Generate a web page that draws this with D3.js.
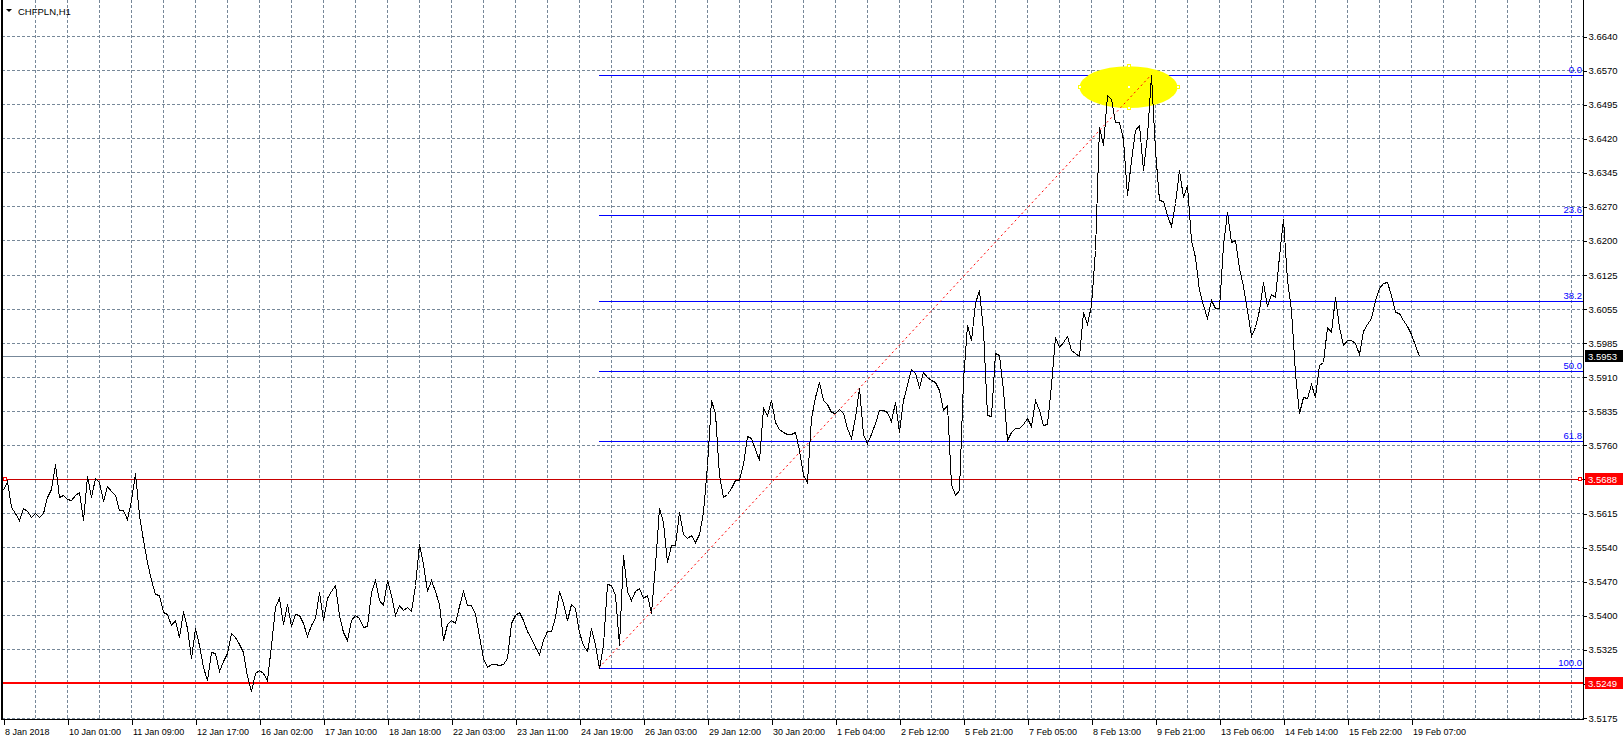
<!DOCTYPE html>
<html><head><meta charset="utf-8">
<script src="https://cdn.jsdelivr.net/npm/d3@7"></script>
<style>
html,body{margin:0;padding:0;background:#fff;}
svg{display:block;}
text{font-family:"Liberation Sans",Arial,sans-serif;}
</style></head><body>
<svg id="chart" width="1623" height="741"></svg>
<script>
// ---------------- data ----------------
const symbolTitle = "CHFPLN,H1";
// close price sampled every 2nd H1 bar, starting 8 Jan 2018
const closes = [
3.5663,3.5683,3.5627,3.5614,3.5599,3.5625,3.5618,3.5607,3.5614,3.5607,
3.5614,3.5648,3.5666,3.5721,3.5648,3.5653,3.5644,3.5642,3.5653,3.5659,
3.5599,3.5694,3.5648,3.5689,3.5681,3.5640,3.5672,3.5661,3.5653,3.5622,
3.5620,3.5601,3.5642,3.5700,3.5610,3.5556,3.5509,3.5470,3.5440,3.5438,
3.5401,3.5397,3.5373,3.5384,3.5349,3.5405,3.5367,3.5302,3.5367,3.5330,
3.5283,3.5255,3.5315,3.5313,3.5276,3.5296,3.5313,3.5356,3.5347,3.5334,
3.5315,3.5265,3.5233,3.5270,3.5278,3.5270,3.5255,3.5330,3.5412,3.5431,
3.5377,3.5418,3.5371,3.5397,3.5395,3.5379,3.5351,3.5373,3.5388,3.5444,
3.5384,3.5431,3.5448,3.5459,3.5395,3.5358,3.5341,3.5384,3.5395,3.5388,
3.5369,3.5371,3.5444,3.5470,3.5427,3.5416,3.5470,3.5438,3.5395,3.5416,
3.5407,3.5412,3.5403,3.5459,3.5549,3.5506,3.5448,3.5470,3.5448,3.5420,
3.5341,3.5377,3.5384,3.5379,3.5414,3.5448,3.5416,3.5416,3.5397,3.5351,
3.5302,3.5283,3.5291,3.5291,3.5287,3.5291,3.5302,3.5379,3.5395,3.5401,
3.5384,3.5362,3.5345,3.5326,3.5311,3.5341,3.5360,3.5362,3.5390,3.5448,
3.5422,3.5384,3.5418,3.5410,3.5358,3.5330,3.5319,3.5367,3.5334,3.5282,
3.5330,3.5463,3.5459,3.5438,3.5330,3.5524,3.5448,3.5427,3.5448,3.5453,
3.5431,3.5438,3.5399,3.5502,3.5625,3.5595,3.5509,3.5545,3.5545,3.5616,
3.5569,3.5560,3.5567,3.5552,3.5569,3.5616,3.5717,3.5857,3.5829,3.5696,
3.5650,3.5655,3.5668,3.5685,3.5685,3.5719,3.5780,3.5775,3.5752,3.5728,
3.5840,3.5825,3.5857,3.5810,3.5795,3.5788,3.5784,3.5784,3.5788,3.5749,
3.5696,3.5681,3.5818,3.5863,3.5896,3.5857,3.5848,3.5831,3.5829,3.5838,
3.5829,3.5797,3.5775,3.5820,3.5883,3.5784,3.5765,3.5784,3.5808,3.5836,
3.5836,3.5831,3.5812,3.5853,3.5788,3.5857,3.5889,3.5924,3.5915,3.5885,
3.5917,3.5906,3.5900,3.5896,3.5879,3.5836,3.5846,3.5678,3.5653,3.5663,
3.5900,3.6018,3.5986,3.6066,3.6094,3.6008,3.5825,3.5823,3.5958,3.5954,
3.5879,3.5771,3.5788,3.5797,3.5797,3.5805,3.5818,3.5801,3.5857,3.5836,
3.5803,3.5805,3.5889,3.5993,3.5971,3.5982,3.5995,3.5965,3.5958,3.5952,
3.6046,3.6021,3.6061,3.6180,3.6444,3.6406,3.6513,3.6505,3.6455,3.6455,
3.6418,3.6298,3.6373,3.6438,3.6449,3.6352,3.6427,3.6556,3.6395,3.6287,
3.6285,3.6255,3.6231,3.6281,3.6352,3.6294,3.6320,3.6201,3.6165,3.6094,
3.6061,3.6033,3.6072,3.6055,3.6055,3.6190,3.6261,3.6197,3.6201,3.6141,
3.6102,3.6051,3.5995,3.6014,3.6051,3.6111,3.6059,3.6085,3.6079,3.6167,
3.6246,3.6115,3.6051,3.5915,3.5829,3.5863,3.5861,3.5891,3.5863,3.5932,
3.5939,3.6014,3.6003,3.6079,3.6014,3.5975,3.5986,3.5986,3.5980,3.5956,
3.6005,3.6021,3.6033,3.6072,3.6098,3.6109,3.6111,3.6083,3.6046,3.6044,
3.6029,3.6016,3.5999,3.5975,3.5953
];
const barsPerSample = 2;
const totalBars = 790;             // bars spanning the visible window incl. right shift

const xLabels = ["8 Jan 2018","10 Jan 01:00","11 Jan 09:00","12 Jan 17:00","16 Jan 02:00",
  "17 Jan 10:00","18 Jan 18:00","22 Jan 03:00","23 Jan 11:00","24 Jan 19:00","26 Jan 03:00",
  "29 Jan 12:00","30 Jan 20:00","1 Feb 04:00","2 Feb 12:00","5 Feb 21:00","7 Feb 05:00",
  "8 Feb 13:00","9 Feb 21:00","13 Feb 06:00","14 Feb 14:00","15 Feb 22:00","19 Feb 07:00"];
const xLabelBars = [0,32,64,96,128,160,192,224,256,288,320,352,384,416,448,480,512,544,576,608,640,672,704];
const xGridBars = [16,32,48,64,80,96,112,128,144,160,176,192,208,224,240,256,272,288,304,320,336,352,368,384,
  400,416,432,448,464,480,496,512,528,544,560,576,592,608,624,640,656,672,688,704,720,736,752,768,784];

const yTickLabels = ["3.6640","3.6570","3.6495","3.6420","3.6345","3.6270","3.6200","3.6125","3.6055",
  "3.5985","3.5910","3.5835","3.5760","3.5688","3.5615","3.5540","3.5470","3.5400","3.5325","3.5249","3.5175"];
const yTop = 3.6640, yBottom = 3.5175;

const currentPrice = 3.5953;
const hLinePrices = [3.5688, 3.5249];
const hLineWidths = [1, 2];
const hLineColors = ["#c80000", "#ff0000"];

const fibLevels = [0, 23.6, 38.2, 50, 61.8, 100];
const fibLabels = ["0.0","23.6","38.2","50.0","61.8","100.0"];
const fibHigh = 3.6556, fibLow = 3.5282;
const fibLowBar = 298, fibHighBar = 574;

const ellipseCenterBar = 562.75, ellipseCenterPrice = 3.6530;
const ellipseHalfBars = 24.5, ellipseHalfPrice = 0.0045;

// ---------------- drawing ----------------
const svg = d3.select("#chart");
const frameL = 2, frameR = 1583, frameT = 0, frameB = 719;
const x = d3.scaleLinear().domain([0, totalBars]).range([3, 1583]);
const y = d3.scaleLinear().domain([yBottom, yTop]).range([717.5, 36]);
const gridValues = yTickLabels.map((_, k) => yTop - k * (yTop - yBottom) / (yTickLabels.length - 1));
const px = v => Math.round(v) + 0.5;

svg.append("rect").attr("width",1623).attr("height",741).attr("fill","#fff");

const gridColor = "#778899";
const g = svg.append("g").attr("shape-rendering","crispEdges");
g.selectAll(".vg").data(xGridBars).join("line")
  .attr("x1", d => px(x(d))).attr("x2", d => px(x(d)))
  .attr("y1", frameT).attr("y2", frameB)
  .attr("stroke", gridColor).attr("stroke-dasharray","3,2");
g.selectAll(".hg").data(gridValues).join("line")
  .attr("x1", frameL).attr("x2", frameR)
  .attr("y1", d => px(y(d))).attr("y2", d => px(y(d)))
  .attr("stroke", gridColor).attr("stroke-dasharray","3,2");

// current price line
g.append("line").attr("x1",frameL).attr("x2",frameR)
  .attr("y1",px(y(currentPrice))).attr("y2",px(y(currentPrice)))
  .attr("stroke","#778899");

// yellow ellipse
svg.append("ellipse")
  .attr("cx", x(ellipseCenterBar)).attr("cy", y(ellipseCenterPrice))
  .attr("rx", x(ellipseCenterBar + ellipseHalfBars) - x(ellipseCenterBar))
  .attr("ry", y(ellipseCenterPrice - ellipseHalfPrice) - y(ellipseCenterPrice))
  .attr("fill","#ffff00");

// horizontal red lines
hLinePrices.forEach((p, i) => {
  const w = hLineWidths[i];
  const yy = w === 1 ? px(y(p)) : Math.round(y(p));
  g.append("line").attr("x1",frameL).attr("x2",frameR).attr("y1",yy).attr("y2",yy)
    .attr("stroke", hLineColors[i]).attr("stroke-width", w);
});

// fibonacci levels
const fibX1 = x(fibLowBar);
fibLevels.forEach((lv, i) => {
  const price = fibHigh - (fibHigh - fibLow) * lv / 100;
  const yy = px(y(price));
  g.append("line").attr("x1",Math.round(fibX1)).attr("x2",frameR).attr("y1",yy).attr("y2",yy)
    .attr("stroke","#0000ff");
  svg.append("text").attr("x", frameR - 1).attr("y", yy - 2.5)
    .attr("text-anchor","end").attr("font-size","9.5px").attr("fill","#0000ff")
    .text(fibLabels[i]);
});

// dotted diagonal of the fibo
svg.append("line")
  .attr("x1", x(fibLowBar)).attr("y1", y(fibLow))
  .attr("x2", x(fibHighBar)).attr("y2", y(fibHigh))
  .attr("stroke","#ff0000").attr("stroke-dasharray","2,3");

// price line
const line = d3.line()
  .x((d, i) => Math.round(x(i * barsPerSample)) + 0.5)
  .y(d => Math.round(y(d)) + 0.5);
svg.append("path").datum(closes).attr("d", line)
  .attr("fill","none").attr("stroke","#000").attr("stroke-width",1)
  .attr("shape-rendering","crispEdges");

// handles: ellipse selection points
const ecx = x(ellipseCenterBar), ecy = y(ellipseCenterPrice);
const erx = x(ellipseCenterBar + ellipseHalfBars) - ecx;
const ery = y(ellipseCenterPrice - ellipseHalfPrice) - ecy;
[[ecx-erx,ecy],[ecx+erx,ecy],[ecx,ecy-ery],[ecx,ecy+ery],[ecx,ecy]].forEach(([hx,hy]) => {
  svg.append("rect").attr("x",Math.round(hx)-2+0.5).attr("y",Math.round(hy)-2+0.5)
    .attr("width",3).attr("height",3).attr("fill","#fff").attr("stroke","#ffff00")
    .attr("shape-rendering","crispEdges");
});
// handles on the 3.5688 line
[x(1), frameR - 3].forEach(hx => {
  svg.append("rect").attr("x",Math.round(hx)-2+0.5).attr("y",Math.round(y(hLinePrices[0]))-2+0.5)
    .attr("width",3).attr("height",3).attr("fill","#fff").attr("stroke","#ff0000")
    .attr("shape-rendering","crispEdges");
});

// frame
const f = svg.append("g").attr("shape-rendering","crispEdges");
f.append("line").attr("x1",2).attr("x2",2).attr("y1",0).attr("y2",frameB+0.5).attr("stroke","#000").attr("stroke-width",2);
f.append("line").attr("x1",frameR+0.5).attr("x2",frameR+0.5).attr("y1",0).attr("y2",frameB+0.5).attr("stroke","#000");
f.append("line").attr("x1",1).attr("x2",frameR+1).attr("y1",frameB+0.5).attr("y2",frameB+0.5).attr("stroke","#000");

// y axis (right)
const yAxis = d3.axisRight(y).tickValues(gridValues).tickSize(3).tickPadding(2)
  .tickFormat((d, i) => yTickLabels[i]);
const ya = svg.append("g").attr("transform",`translate(${frameR+0.5},0.5)`).call(yAxis);
ya.select(".domain").remove();
ya.selectAll(".tick line").attr("stroke","#000").attr("shape-rendering","crispEdges");
ya.selectAll(".tick text").attr("font-size","9.5px").attr("fill","#000")
  .attr("font-family","'Liberation Sans',Arial,sans-serif");

// x axis (bottom)
const xAxis = d3.axisBottom(x).tickValues(xLabelBars).tickSize(5).tickPadding(4)
  .tickFormat((d, i) => xLabels[i]);
const xa = svg.append("g").attr("transform",`translate(0.5,${frameB+0.5})`).call(xAxis);
xa.select(".domain").remove();
xa.selectAll(".tick line").attr("stroke","#000").attr("shape-rendering","crispEdges");
xa.selectAll(".tick text").attr("font-size","9px").attr("fill","#000").attr("text-anchor","start")
  .attr("x", 1).attr("font-family","'Liberation Sans',Arial,sans-serif");

// price boxes on the axis
function priceBox(p, bg) {
  const yy = Math.round(y(p));
  svg.append("rect").attr("x",frameR+2).attr("y",yy-6).attr("width",38).attr("height",12)
    .attr("fill",bg).attr("shape-rendering","crispEdges");
  svg.append("text").attr("x",frameR+5).attr("y",yy+3.5).attr("font-size","9.5px")
    .attr("fill","#fff").text(p.toFixed(4));
}
hLinePrices.forEach(p => priceBox(p, "#ff0000"));
priceBox(currentPrice, "#000");

// title
svg.append("path").attr("d","M6,9 L12,9 L9,12 Z").attr("fill","#000");
svg.append("text").attr("x",18).attr("y",14.5).attr("font-size","9.5px").attr("fill","#000").text(symbolTitle);
</script>
</body></html>
